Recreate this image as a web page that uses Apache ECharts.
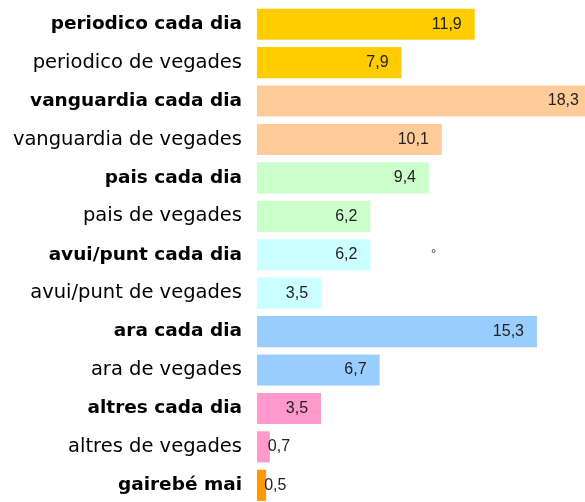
<!DOCTYPE html>
<html>
<head>
<meta charset="utf-8">
<script src="https://cdn.jsdelivr.net/npm/echarts@6/dist/echarts.min.js"></script>
<style>
  html, body { margin: 0; padding: 0; background: #fff; }
  #main { width: 585px; height: 502px; }
</style>
</head>
<body>
<div id="main"></div>
<script>
var categories = [
    'periodico cada dia', 'periodico de vegades',
    'vanguardia cada dia', 'vanguardia de vegades',
    'pais cada dia', 'pais de vegades',
    'avui/punt cada dia', 'avui/punt de vegades',
    'ara cada dia', 'ara de vegades',
    'altres cada dia', 'altres de vegades',
    'gairebé mai'
];
var values = [11.9, 7.9, 18.3, 10.1, 9.4, 6.2, 6.2, 3.5, 15.3, 6.7, 3.5, 0.7, 0.5];
var barColors = [
    '#FFCC00', '#FFCC00', '#FFCC99', '#FFCC99', '#CCFFCC', '#CCFFCC',
    '#CCFFFF', '#CCFFFF', '#99CCFF', '#99CCFF', '#FF99CC', '#FF99CC', '#FF9900'
];
// rows drawn in bold
var boldRows = [0, 2, 4, 6, 8, 10, 12];

var myChart = echarts.init(document.getElementById('main'));

var seriesData = values.map(function (v, i) {
    var small = v < 1;
    return {
        value: v,
        itemStyle: { color: barColors[i] },
        label: small
            ? { position: 'right', distance: -2 }
            : { position: 'insideRight', distance: 13 }
    };
});

var option = {
    animation: false,
    grid: {
        left: 257,
        top: 5,
        width: 366,
        height: 499.5,
        outerBoundsMode: 'none',
        containLabel: false
    },
    xAxis: {
        type: 'value',
        min: 0,
        max: 20,
        show: false
    },
    yAxis: {
        type: 'category',
        inverse: true,
        data: categories,
        axisLine: { show: false },
        axisTick: { show: false },
        axisLabel: {
            margin: 15,
            fontFamily: 'DejaVu Sans, sans-serif',
            fontSize: 19.5,
            color: '#000',
            formatter: function (val, idx) {
                return boldRows.indexOf(idx) >= 0 ? '{b|' + val + '}' : val;
            },
            rich: {
                b: {
                    fontWeight: 'bold',
                    fontFamily: 'DejaVu Sans, sans-serif',
                    fontSize: 18.5,
                    color: '#000'
                }
            }
        }
    },
    series: [
        {
            type: 'bar',
            data: seriesData,
            barCategoryGap: '19%',
            label: {
                show: true,
                fontFamily: 'Liberation Sans, Arial, sans-serif',
                fontSize: 16,
                color: '#222',
                formatter: function (p) {
                    return String(p.value).replace('.', ',');
                }
            }
        }
    ],
    graphic: [
        {
            type: 'text',
            left: 431,
            top: 248,
            style: { text: '°', fontSize: 13, fill: '#333', fontFamily: 'Liberation Sans, Arial, sans-serif' }
        }
    ]
};

myChart.setOption(option);
</script>
</body>
</html>
